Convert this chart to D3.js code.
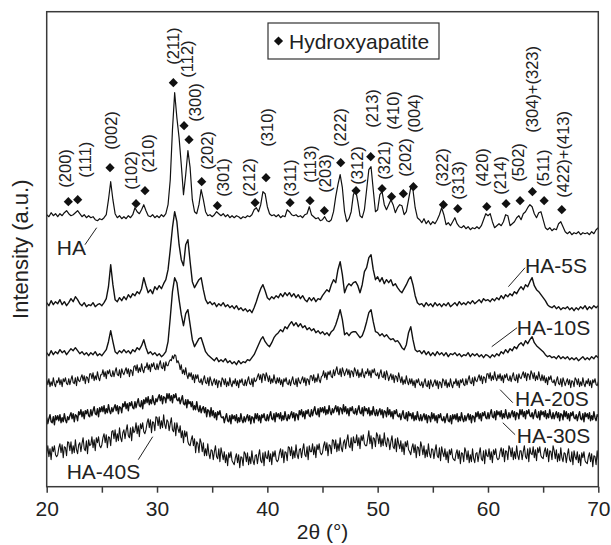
<!DOCTYPE html>
<html><head><meta charset="utf-8">
<script src="https://cdn.jsdelivr.net/npm/d3@7/dist/d3.min.js"></script>
<style>body{margin:0;background:#fff}svg{display:block}</style>
</head><body><svg id="c" width="611" height="545"></svg>
<script>
// 2θ grid starts at 20°; the crystalline patterns are read every 0.2°, the noisy amorphous ones every 0.1°
const thetaStart = 20;
const seriesStep = [0.2, 0.2, 0.2, 0.1, 0.1, 0.1];
const seriesNames = ["HA", "HA-5S", "HA-10S", "HA-20S", "HA-30S", "HA-40S"];

const HA = [
272,270,274,271,273, 270,273,271,274,276, 273,271,272,274,276, 273,270,272,269,271, 269,270,267,266,268,
267,269,272,287,305, 287,273,269,271,268, 270,268,271,269,272, 279,275,273,277,282, 276,271,270,272,269,
271,269,272,270,273, 282,307,357,394,369, 349,322,292,312,336, 319,287,275,273,282, 297,287,275,271,272,
270,272,275,273,271, 273,270,272,269,271, 269,271,270,268,270, 269,271,270,272,277, 279,275,282,295,293,
280,273,271,272,270, 272,269,271,270,277, 275,272,271,272,270, 271,269,272,273,280, 272,270,268,269,266,
267,270,266,265,267, 275,290,302,312,299, 275,265,268,275,292, 297,285,271,269,277, 297,317,320,297,275,
277,292,295,282,277, 282,287,282,274,279, 282,281,272,275,287, 299,297,279,269,267, 264,268,263,266,262,
265,263,267,272,279, 272,262,264,261,265, 269,263,260,259,261, 258,260,257,259,258, 260,258,261,267,273,
271,273,265,259,261, 263,261,265,272,271, 261,263,265,269,271, 267,273,275,279,282, 280,273,269,274,275,
267,259,257,259,256, 258,257,263,265,260, 255,253,255,252,254, 253,255,252,254,253, 254,252,255,253,257,
259];

const HA5S = [
184,181,186,182,185, 183,187,182,185,181, 184,188,185,190,187, 183,181,184,180,182, 181,184,180,182,183,
181,184,188,200,222, 202,187,185,189,186, 190,187,192,189,193, 191,195,193,198,209, 201,194,197,193,200,
197,201,198,203,207, 217,237,259,275,265, 242,227,221,242,247, 225,205,199,203,207, 209,197,187,183,185,
182,184,180,183,181, 184,180,182,179,181, 178,181,177,179,176, 178,175,177,174,179, 185,192,198,202,196,
189,187,190,188,191, 189,193,190,194,191, 194,190,193,189,192, 188,191,187,185,189, 186,189,185,188,187,
191,194,197,195,202, 207,204,217,225,212, 194,200,203,201,204, 205,201,194,202,215, 219,229,232,217,207,
210,205,209,203,207, 204,207,201,203,199, 196,194,198,202,207, 210,202,191,184,182, 183,180,184,181,183,
180,184,181,183,180, 183,181,184,180,182, 184,181,185,182,184, 182,185,183,186,183, 185,187,184,188,186,
187,185,188,186,189, 187,191,188,192,190, 193,191,195,193,197, 200,197,202,200,205, 209,201,197,195,192,
189,186,182,180,179, 181,178,180,177,179, 178,180,177,179,176, 179,177,180,178,181, 177,180,178,181,179,
181];

const HA10S = [
134,131,136,132,135, 133,137,134,136,132, 135,138,136,139,136, 133,135,132,134,131, 134,132,135,131,133,
131,134,137,145,156, 145,135,133,136,134, 137,134,136,133,137, 135,139,137,141,147, 139,133,135,132,134,
131,133,130,132,135, 145,169,195,209,204, 187,172,161,173,177, 162,147,140,144,148, 149,142,135,132,130,
128,126,129,125,127, 125,128,124,126,123, 125,122,126,123,125, 124,127,126,129,132, 137,142,147,150,145,
142,140,144,149,152, 154,157,155,160,158, 162,165,161,164,160, 163,159,161,157,159, 156,158,154,156,153,
155,152,154,151,155, 157,162,169,177,167, 152,154,151,154,155, 155,152,149,151,157, 165,174,177,165,155,
154,151,153,150,152, 149,147,148,145,146, 143,139,137,142,154, 160,147,137,135,136, 133,136,132,135,131,
134,131,135,132,134, 131,134,130,133,132, 134,131,133,130,132, 131,134,130,133,131, 133,130,132,129,132,
131,129,132,130,133, 131,135,133,137,134, 138,136,140,138,142, 144,141,146,143,147, 150,144,141,139,137,
135,132,130,131,129, 130,128,131,128,130, 128,130,127,129,127, 129,126,128,130,127, 129,127,130,128,131,
129];

const HA20S = [
107,102,108,100,105,101,109,103,100,106, 104,109,102,107,100,108,105,109,103,102,
108,102,107,111,104,103,109,101,110,106, 105,109,112,106,111,103,110,109,104,113,
113,108,114,106,111,107,115,109,106,112, 112,117,110,115,108,116,113,117,111,110,
116,110,115,119,112,111,117,109,118,114, 112,116,119,113,118,110,117,116,111,120,
121,116,122,114,119,115,123,117,114,120, 119,124,117,122,115,123,120,124,118,117,
123,117,122,126,119,118,124,116,125,121, 121,125,127,126,131,128,132,131,124,126,
123,117,122,113,117,112,119,112,108,114, 110,114,107,112,104,112,108,112,105,104,
108,102,107,111,104,103,109,101,110,106, 101,105,108,102,107,99,106,105,100,109,
107,102,108,100,105,101,109,103,100,106, 103,108,101,106,99,107,104,108,102,101,
107,101,106,110,103,102,108,100,109,105, 106,110,113,107,112,104,113,112,106,114,
110,105,111,103,108,104,112,106,103,109, 104,109,102,107,100,108,105,109,103,102,
107,101,106,110,103,102,108,100,109,105, 103,107,110,104,109,101,108,107,102,111,
111,106,112,104,109,105,113,107,104,110, 111,116,109,114,107,115,112,116,110,109,
117,111,116,120,113,112,118,110,119,115, 111,115,118,112,117,109,116,115,110,119,
116,111,117,109,114,110,118,112,109,115, 113,118,111,116,109,117,114,118,112,111,
114,108,113,117,110,109,115,107,116,112, 106,110,113,107,112,104,111,110,105,114,
109,104,110,102,107,103,111,105,102,108, 103,108,101,106,99,107,104,108,102,101,
105,99,104,108,101,100,106,98,107,103, 100,104,107,101,106,98,105,104,99,108,
106,101,107,99,104,100,108,102,99,105, 103,108,101,106,99,107,104,108,102,101,
108,102,107,111,104,103,109,101,110,106, 105,109,112,106,111,103,110,109,104,113,
113,108,114,106,111,107,115,109,106,112, 108,113,106,111,104,112,109,113,107,106,
111,105,110,114,107,106,112,104,113,109, 108,112,115,109,114,106,113,112,107,116,
113,108,114,106,111,107,115,109,106,112, 106,111,104,109,102,110,107,111,105,104,
107,101,106,110,103,102,108,100,109,105, 101,105,108,102,107,99,106,105,100,109,
107,102,108,100,105,101,109,103,100,106, 103,108,101,106,99,107,104,108,102,101,
105];

const HA30S = [
69,63,68,72,65,64,70,62,71,67, 71,66,72,64,69,65,73,67,64,70,
67,71,74,68,73,65,72,71,66,75, 72,77,70,75,68,76,73,77,71,70,
77,71,76,80,73,72,78,70,79,75, 80,75,81,73,78,74,82,76,73,79,
75,79,82,76,81,73,80,79,74,83, 80,85,78,83,76,84,81,85,79,78,
85,79,84,88,81,80,86,78,87,83, 89,84,90,82,87,83,91,85,82,88,
85,89,92,86,91,83,90,89,84,93, 88,93,86,91,84,92,89,93,87,86,
89,83,87,91,83,82,87,79,87,83, 85,80,85,77,81,77,85,78,75,81,
74,78,80,74,79,70,77,76,70,79, 71,76,69,74,67,75,72,76,70,69,
70,64,69,73,66,65,71,63,72,68, 71,66,72,64,69,65,73,67,64,70,
65,69,72,66,71,63,70,69,64,73, 68,73,66,71,64,72,69,73,67,66,
72,66,71,75,68,67,73,65,74,70, 73,68,74,66,71,67,75,69,66,72,
68,72,75,69,74,66,73,72,67,76, 72,77,70,75,68,76,73,77,71,70,
77,71,76,80,73,72,78,70,79,75, 79,74,80,72,77,73,81,75,72,78,
74,78,81,75,80,72,79,78,73,82, 75,80,73,78,71,79,76,80,74,73,
78,72,77,81,74,73,79,71,80,76, 78,73,79,71,76,72,80,74,71,77,
71,75,78,72,77,69,76,75,70,79, 72,77,70,75,68,76,73,77,71,70,
73,67,72,76,69,68,74,66,75,71, 73,68,74,66,71,67,75,69,66,72,
66,70,73,67,72,64,71,70,65,74, 68,73,66,71,64,72,69,73,67,66,
70,64,69,73,66,65,71,63,72,68, 72,67,73,65,70,66,74,68,65,71,
66,70,73,67,72,64,71,70,65,74, 70,75,68,73,66,74,71,75,69,68,
74,68,73,77,70,69,75,67,76,72, 75,70,76,68,73,69,77,71,68,74,
69,73,76,70,75,67,74,73,68,77, 72,77,70,75,68,76,73,77,71,70,
74,68,73,77,70,69,75,67,76,72, 75,70,76,68,73,69,77,71,68,74,
68,72,75,69,74,66,73,72,67,76, 70,75,68,73,66,74,71,75,69,68,
72,66,71,75,68,67,73,65,74,70, 73,68,74,66,71,67,75,69,66,72,
70];

const HA40S = [
33,41,30,38,27,40,35,41,32,30, 32,39,43,34,42,29,40,39,31,45,
44,36,45,33,41,34,47,37,33,42, 44,35,43,49,38,36,46,33,47,41,
42,50,39,47,36,49,44,50,41,39, 42,49,53,44,52,39,50,49,41,55,
56,48,57,45,53,46,59,49,45,54, 57,48,56,62,51,49,59,46,60,54,
56,64,53,61,50,63,58,64,55,53, 57,64,68,59,67,54,65,64,56,70,
69,61,70,58,66,59,72,62,58,67, 65,56,63,69,57,55,64,51,64,58,
54,61,49,56,44,56,50,55,45,42, 41,47,51,41,48,34,45,43,34,48,
44,35,44,31,38,31,43,33,28,37, 36,27,35,41,30,28,38,25,39,33,
27,35,24,32,21,34,29,35,26,24, 22,29,33,24,32,19,30,29,21,35,
33,25,34,22,30,23,36,26,22,31, 32,23,31,37,26,24,34,21,35,29,
28,36,25,33,22,35,30,36,27,25, 27,34,38,29,37,24,35,34,26,40,
39,31,40,28,36,29,42,32,28,37, 38,29,37,43,32,30,40,27,41,35,
35,43,32,40,29,42,37,43,34,32, 34,41,45,36,44,31,42,41,33,47,
46,38,47,35,43,36,49,39,35,44, 47,38,46,52,41,39,49,36,50,44,
44,52,41,49,38,51,46,52,43,41, 41,48,56,43,51,38,49,48,40,54,
51,43,52,40,48,41,54,44,40,49, 46,37,45,51,40,38,48,35,49,43,
38,46,35,43,32,45,40,46,37,35, 32,39,43,34,42,29,40,39,31,45,
40,32,41,29,37,30,43,33,29,38, 37,28,36,42,31,29,39,26,40,34,
30,38,27,35,24,37,32,38,29,27, 26,33,37,28,36,23,34,33,25,39,
35,27,36,24,32,25,38,28,24,33, 34,25,33,39,28,26,36,23,37,31,
30,38,27,35,24,37,32,38,29,27, 28,35,39,30,38,25,36,35,27,41,
38,30,39,27,35,28,41,31,27,36, 36,27,35,41,30,28,38,25,39,33,
32,40,29,37,26,39,34,40,31,29, 28,35,39,30,38,25,36,35,27,41,
36,28,37,25,33,26,39,29,25,34, 33,24,32,38,27,25,35,22,36,30,
27,35,24,32,21,34,29,35,26,24, 23,30,34,25,33,20,31,30,22,36,
27];

const seriesValues = [HA, HA5S, HA10S, HA20S, HA30S, HA40S];

// Hydroxyapatite reflections
const millerLabels = ["(200)","(111)","(002)","(102)","(210)","(211)","(112)","(300)","(202)","(301)",
  "(212)","(310)","(311)","(113)","(203)","(222)","(312)","(213)","(321)","(410)","(202)","(004)",
  "(322)","(313)","(420)","(214)","(502)","(304)+(323)","(511)","(422)+(413)"];
const markerTheta = [21.96,22.81,25.74,28.10,28.91,31.48,32.45,32.90,34.05,35.47,
  38.89,39.88,42.06,43.87,45.17,46.65,48.04,49.37,50.40,51.26,52.33,53.24,
  55.96,57.26,59.89,61.64,62.91,64.03,65.09,66.69];
const markerIntensity = [285,287,319,283,296,404,361,347,305,281,
  284,309,284,286,276,324,296,330,298,290,293,300,
  282,278,280,283,286,295,286,277];
const labelTheta = [21.66,23.47,25.80,27.62,29.21,31.48,32.75,33.44,34.51,35.94,
  38.37,39.95,42.06,43.87,45.23,46.59,48.11,49.46,50.58,51.35,52.48,53.33,
  55.81,57.32,59.44,61.10,62.76,63.97,65.02,66.84];
const labelIntensity = [299,309,337,297,314,422,409,365,317,290,
  290,340,290,304,294,340,302,359,307,357,310,354,
  300,287,300,292,305,354,300,289];

// sample name annotations: text anchor + leader line (in 2θ / intensity units)
const nameTheta = [20.91, 63.36, 62.61, 62.46, 62.61, 21.81];
const nameIntensity = [232, 214, 152, 81, 44, 8];
const leaderTheta0 = [23.47, 61.85, 60.34, 61.10, 61.34, 28.30];
const leaderI0 = [242, 200, 140, 97, 64, 27];
const leaderTheta1 = [24.53, 63.36, 62.64, 62.25, 62.46, 29.61];
const leaderI1 = [259, 219, 159, 84, 52, 50];

const xMajorTicks = [20, 30, 40, 50, 60, 70];
const xMinorTicks = [25, 35, 45, 55, 65];
const legendLabel = "Hydroxyapatite";

// ---------- drawing ----------
const FONT = "'Liberation Sans', Arial, Helvetica, sans-serif";
const svg = d3.select("#c");
const L = 46.7, R = 598.3, T = 11.7, B = 486.7;
const x = d3.scaleLinear().domain([20, 70]).range([L, R]);
const y = d3.scaleLinear().domain([0, 475]).range([B, T]);

const widths = [1.2, 1.4, 1.4, 1.1, 1.4, 1.1];
const g = svg.append("g");
seriesValues.forEach((vals, k) => {
  const step = seriesStep[k];
  const line = d3.line().x((d, i) => x(thetaStart + step * i)).y(d => y(d));
  g.append("path").datum(vals).attr("d", line)
    .attr("fill", "none").attr("stroke", "#111")
    .attr("stroke-width", widths[k]).attr("stroke-linejoin", "round");
});

// frame
svg.append("rect").attr("x", L).attr("y", T).attr("width", R - L).attr("height", B - T)
  .attr("fill", "none").attr("stroke", "#3a3a3a").attr("stroke-width", 1.5);

// bottom axis
const ax = svg.append("g").attr("transform", `translate(0,${B})`)
  .call(d3.axisBottom(x).tickValues(xMajorTicks).tickSize(6).tickPadding(8).tickFormat(d3.format("d")));
ax.select(".domain").remove();
ax.selectAll(".tick line").attr("stroke", "#3a3a3a").attr("stroke-width", 1.5);
ax.selectAll(".tick text").attr("font-family", FONT).attr("font-size", 21).attr("fill", "#222");
const axm = svg.append("g").attr("transform", `translate(0,${B})`)
  .call(d3.axisBottom(x).tickValues(xMinorTicks).tickSize(6).tickFormat(""));
axm.select(".domain").remove();
axm.selectAll(".tick line").attr("stroke", "#3a3a3a").attr("stroke-width", 1.5);

// axis titles
svg.append("text").attr("x", (L + R) / 2).attr("y", 539).attr("text-anchor", "middle")
  .attr("font-family", FONT).attr("font-size", 21).attr("fill", "#222").text("2θ (°)");
svg.append("text").attr("transform", `translate(20,${(T + B) / 2}) rotate(-90)`)
  .attr("text-anchor", "middle").attr("dominant-baseline", "central")
  .attr("font-family", FONT).attr("font-size", 22).attr("fill", "#222").text("Intensity (a.u.)");

// diamonds + hkl labels
const diamond = r => `M0,${-r}L${r},0L0,${r}L${-r},0Z`;
svg.append("g").selectAll("path").data(markerTheta).join("path")
  .attr("transform", (d, i) => `translate(${x(d)},${y(markerIntensity[i])})`)
  .attr("d", diamond(4.6)).attr("fill", "#111");
svg.append("g").selectAll("text").data(millerLabels).join("text")
  .attr("transform", (d, i) => `translate(${x(labelTheta[i])},${y(labelIntensity[i])}) rotate(-90)`)
  .attr("text-anchor", "start").attr("dominant-baseline", "central")
  .attr("font-family", FONT).attr("font-size", 16.5).attr("fill", "#222").text(d => d);

// sample names
seriesNames.forEach((n, i) => {
  svg.append("line").attr("x1", x(leaderTheta0[i])).attr("y1", y(leaderI0[i]))
    .attr("x2", x(leaderTheta1[i])).attr("y2", y(leaderI1[i]))
    .attr("stroke", "#222").attr("stroke-width", 1);
  svg.append("text").attr("x", x(nameTheta[i])).attr("y", y(nameIntensity[i]))
    .attr("font-family", FONT).attr("font-size", 21).attr("fill", "#222").text(n);
});

// legend
svg.append("rect").attr("x", 268).attr("y", 23).attr("width", 171).attr("height", 36)
  .attr("fill", "#fff").attr("stroke", "#333").attr("stroke-width", 1.2);
svg.append("path").attr("transform", "translate(278.5,41)").attr("d", diamond(4.6)).attr("fill", "#111");
svg.append("text").attr("x", 289).attr("y", 48.5).attr("font-family", FONT).attr("font-size", 21)
  .attr("fill", "#222").text(legendLabel);
</script></body></html>
